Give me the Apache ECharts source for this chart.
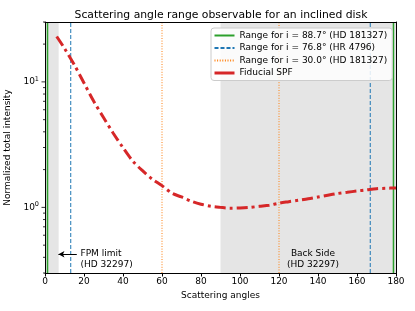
<!DOCTYPE html>
<html><head><meta charset="utf-8">
<script src="https://cdn.jsdelivr.net/npm/echarts@6/dist/echarts.min.js"></script>
<style>html,body{margin:0;padding:0;background:#fff}#c{width:415px;height:311px}</style>
</head><body><div id="c"></div>
<script>
// Scattering angles (deg) and fiducial SPF values
var spfAngles = [6,10,15,20,25,30,35,40,45,50,55,60,65,70,75,80,85,90,95,100,105,110,115,120,125,130,135,140,145,150,155,160,165,170,175,180];
var spfValues = [23.0,18.5,13.7,9.8,7.0,5.2,3.9,2.99,2.34,1.96,1.68,1.49,1.30,1.21,1.12,1.06,1.02,1.0,0.986,0.99,1.0,1.02,1.04,1.08,1.11,1.14,1.17,1.21,1.25,1.29,1.32,1.35,1.38,1.41,1.42,1.43];
// Observable range limits (deg)
var range887 = [1.3, 178.7];
var range768 = [13.2, 166.8];
var range300 = [60, 120];
var fpmLimit = [0, 7];
var backSide = [90, 180];
var yMajor = [1, 10];
var yMinor = [0.3,0.4,0.5,0.6,0.7,0.8,0.9,2,3,4,5,6,7,8,9,20,30];
var yMin = 0.3, yMax = 30;
var legendNames = ['Range for i = 88.7° (HD 181327)','Range for i = 76.8° (HR 4796)','Range for i = 30.0° (HD 181327)','Fiducial SPF'];
var fpmArrow = [[16.3, 0.423],[6.9, 0.423]];

function vlines(xs){
  var d=[];
  xs.forEach(function(x,i){ if(i>0) d.push('-'); d.push([x,yMin]); d.push([x,yMax]); });
  return d;
}
var font = 'DejaVu Sans';
var chart = echarts.init(document.getElementById('c'), null, {renderer:'canvas'});
var tickData = yMajor.map(function(v){return [v,1];}).concat(yMinor.map(function(v){return [v,0];}));
var frameAxisX = {type:'value',min:0,max:180,position:'top',z:10,axisLine:{onZero:false,lineStyle:{color:'#000',width:1}},
  axisTick:{show:false},axisLabel:{show:false},splitLine:{show:false}};
var frameAxisY = {type:'log',logBase:10,min:yMin,max:yMax,position:'right',z:10,axisLine:{onZero:false,lineStyle:{color:'#000',width:1}},
  axisTick:{show:false},axisLabel:{show:false},splitLine:{show:false}};
chart.setOption({
  animation:false,
  textStyle:{fontFamily:font},
  title:{text:'Scattering angle range observable for an inclined disk',left:216,textAlign:'center',top:5,
    textStyle:{fontSize:10.8,fontWeight:'normal',color:'#000',fontFamily:font}},
  grid:{left:45,right:19,top:22,bottom:38,outerBoundsMode:'none',containLabel:false},
  legend:{orient:'vertical',left:211,top:28,itemWidth:20,itemHeight:10,itemGap:3.5,
    itemStyle:{opacity:0},
    backgroundColor:'rgba(255,255,255,0.85)',borderColor:'#ccc',borderWidth:1,borderRadius:3,
    padding:[3,5,3,2],textStyle:{fontSize:9,color:'#000',fontFamily:font},
    data:legendNames.map(function(n,i){return i===3?{name:n,lineStyle:{type:'solid',width:3}}:{name:n};})},
  xAxis:[{type:'value',min:0,max:180,interval:20,z:10,
    axisLine:{onZero:false,lineStyle:{color:'#000',width:1}},axisTick:{length:3.5,lineStyle:{color:'#000'}},
    axisLabel:{fontSize:9,color:'#000',margin:4,fontFamily:font},splitLine:{show:false},
    name:'Scattering angles',nameLocation:'middle',nameGap:17,nameTextStyle:{fontSize:9,color:'#000',fontFamily:font}},
    frameAxisX],
  yAxis:[{type:'log',logBase:10,min:yMin,max:yMax,z:10,
    axisLine:{onZero:false,lineStyle:{color:'#000',width:1}},axisTick:{show:false},splitLine:{show:false},
    axisLabel:{fontSize:9,color:'#000',margin:6,fontFamily:font,showMinLabel:true,showMaxLabel:true,
      formatter:function(v){var l=Math.log10(v);var r=Math.round(l);if(Math.abs(l-r)>1e-6)return '';return '10{s|'+r+'}';},
      rich:{s:{fontSize:6.5,verticalAlign:'top',padding:[0,0,6,0],fontFamily:font}}},
    name:'Normalized total intensity',nameLocation:'middle',nameGap:31,nameTextStyle:{fontSize:9,color:'#000',fontFamily:font}},
    frameAxisY],
  series:[
    {name:legendNames[0],type:'line',data:vlines(range887),symbol:'none',connectNulls:false,
      lineStyle:{color:'#2ca02c',width:1.5,type:'solid'},itemStyle:{color:'#2ca02c'},z:3,
      markArea:{silent:true,z:1,itemStyle:{color:'#e5e5e5'},data:[[{xAxis:fpmLimit[0]},{xAxis:fpmLimit[1]}],[{xAxis:backSide[0]},{xAxis:backSide[1]}]]}},
    {name:legendNames[1],type:'line',data:vlines(range768),symbol:'none',connectNulls:false,
      lineStyle:{color:'#1f77b4',width:1,type:[4,2]},itemStyle:{color:'#1f77b4'},z:3},
    {name:legendNames[2],type:'line',data:vlines(range300),symbol:'none',connectNulls:false,
      lineStyle:{color:'#ff7f0e',width:1,type:[1,1.6]},itemStyle:{color:'#ff7f0e'},z:3},
    {name:legendNames[3],type:'line',data:spfAngles.map(function(a,i){return [a,spfValues[i]];}),symbol:'none',smooth:0.3,
      lineStyle:{color:'#d62728',width:3,type:[11,4,3,4]},itemStyle:{color:'#d62728'},z:4,
      markLine:{silent:true,symbol:['none','arrow'],symbolSize:[5,6],label:{show:false},
        lineStyle:{color:'#000',width:1,type:'solid'},
        data:[[{coord:fpmArrow[0]},{coord:fpmArrow[1]}]]}},
    {type:'custom',clip:false,silent:true,z:12,data:tickData,
      renderItem:function(params,api){
        var p=api.coord([0,api.value(0)]);var len=api.value(1)?3.5:2;
        return {type:'line',shape:{x1:p[0]-len,y1:p[1],x2:p[0],y2:p[1]},style:{stroke:'#000',lineWidth:0.8}};
      }}
  ],
  graphic:[
    {type:'text',z:100,left:80.5,top:248,style:{text:'FPM limit\n(HD 32297)',fontSize:9,fill:'#000',fontFamily:font,lineHeight:11}},
    {type:'text',z:100,x:313,y:248,style:{text:'Back Side\n(HD 32297)',fontSize:9,fill:'#000',fontFamily:font,lineHeight:11,align:'center',verticalAlign:'top'}}
  ]
});
</script></body></html>
